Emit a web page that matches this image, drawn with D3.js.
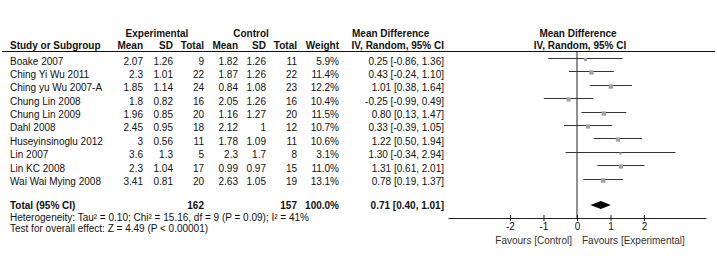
<!DOCTYPE html>
<html>
<head>
<meta charset="utf-8">
<script src="https://cdn.jsdelivr.net/npm/d3@7"></script>
<style>
  body { margin: 0; background: #fff; }
  text { font-family: "Liberation Sans", Arial, sans-serif; font-size: 10px; fill: #111; }
  .b { font-weight: bold; }
</style>
</head>
<body>
<svg id="chart" width="717" height="260"></svg>
<script>
// study data
const studies = ["Boake 2007", "Ching Yi Wu 2011", "Ching yu Wu 2007-A", "Chung Lin 2008", "Chung Lin 2009",
                 "Dahl 2008", "Huseyinsinoglu 2012", "Lin 2007", "Lin KC 2008", "Wai Wai Mying 2008"];
const expMean = ["2.07", "2.3", "1.85", "1.8", "1.96", "2.45", "3", "3.6", "2.3", "3.41"];
const expSD   = ["1.26", "1.01", "1.14", "0.82", "0.85", "0.95", "0.56", "1.3", "1.04", "0.81"];
const expN    = [9, 22, 24, 16, 20, 18, 11, 5, 17, 20];
const ctlMean = ["1.82", "1.87", "0.84", "2.05", "1.16", "2.12", "1.78", "2.3", "0.99", "2.63"];
const ctlSD   = ["1.26", "1.26", "1.08", "1.26", "1.27", "1", "1.09", "1.7", "0.97", "1.05"];
const ctlN    = [11, 22, 23, 16, 20, 12, 11, 8, 15, 19];
const weight  = [5.9, 11.4, 12.2, 10.4, 11.5, 10.7, 10.6, 3.1, 11.0, 13.1];
const md      = [0.25, 0.43, 1.01, -0.25, 0.80, 0.33, 1.22, 1.30, 1.31, 0.78];
const lo      = [-0.86, -0.24, 0.38, -0.99, 0.13, -0.39, 0.50, -0.34, 0.61, 0.19];
const hi      = [1.36, 1.10, 1.64, 0.49, 1.47, 1.05, 1.94, 2.94, 2.01, 1.37];

const total = {expN: 162, ctlN: 157, weight: "100.0%", md: 0.71, lo: 0.40, hi: 1.01};
const tickVals = [-2, -1, 0, 1, 2];
const hetText = "Heterogeneity: Tau\u00b2 = 0.10; Chi\u00b2 = 15.16, df = 9 (P = 0.09); I\u00b2 = 41%";
const testText = "Test for overall effect: Z = 4.49 (P < 0.00001)";

const svg = d3.select("#chart");
// plain hyphen for negatives, like the original
const f2 = v => v.toFixed(2);

// layout
const rowY = d3.scaleLinear().domain([0, studies.length - 1]).range([61, 181.5]);
const xscale = d3.scaleLinear().domain([-3.85, 3.85]).range([448, 706]);
const sizeScale = d3.scaleSqrt().domain([0, 13.1]).range([0, 4.6]);
const axisY = 218, totalY = 205;

function txt(x, y, s, anchor, cls) {
  return svg.append("text")
    .attr("x", x).attr("y", y + 3.5)
    .attr("text-anchor", anchor || "start")
    .attr("class", cls || null)
    .text(s);
}

// headers
txt(157, 33, "Experimental", "middle", "b");
txt(251, 33, "Control", "middle", "b");
txt(352, 33, "Mean Difference", "start", "b");
txt(578, 33, "Mean Difference", "middle", "b");
txt(10, 45, "Study or Subgroup", "start", "b");
const cols = [143, 173, 204, 238, 266, 297, 339];
["Mean", "SD", "Total", "Mean", "SD", "Total", "Weight"].forEach((h, i) => txt(cols[i], 45, h, "end", "b"));
txt(444, 45, "IV, Random, 95% CI", "end", "b");
txt(580, 45, "IV, Random, 95% CI", "middle", "b");

svg.append("line").attr("x1", 2).attr("x2", 715).attr("y1", 51.5).attr("y2", 51.5)
  .attr("stroke", "#111").attr("stroke-width", 1);

// table rows
studies.forEach((s, i) => {
  const y = rowY(i);
  txt(10, y, s);
  [expMean[i], expSD[i], expN[i], ctlMean[i], ctlSD[i], ctlN[i], weight[i].toFixed(1) + "%"]
    .forEach((v, j) => txt(cols[j], y, v, "end"));
  txt(444, y, f2(md[i]) + " [" + f2(lo[i]) + ", " + f2(hi[i]) + "]", "end");
});

// total row
txt(10, totalY, "Total (95% CI)", "start", "b");
txt(cols[2], totalY, total.expN, "end", "b");
txt(cols[5], totalY, total.ctlN, "end", "b");
txt(cols[6], totalY, total.weight, "end", "b");
txt(444, totalY, f2(total.md) + " [" + f2(total.lo) + ", " + f2(total.hi) + "]", "end", "b");
txt(10, 217, hetText);
txt(10, 228, testText);

// forest plot
const plot = svg.append("g");
plot.append("line")
  .attr("x1", xscale(0)).attr("x2", xscale(0))
  .attr("y1", 52).attr("y2", axisY)
  .attr("stroke", "#222");

plot.selectAll(".ci").data(studies).join("line")
  .attr("class", "ci")
  .attr("x1", (d, i) => xscale(lo[i]))
  .attr("x2", (d, i) => xscale(hi[i]))
  .attr("y1", (d, i) => Math.round(rowY(i) - 3) + 0.5)
  .attr("y2", (d, i) => Math.round(rowY(i) - 3) + 0.5)
  .attr("stroke", "#333").attr("stroke-width", 1);

plot.selectAll(".pt").data(studies).join("rect")
  .attr("class", "pt")
  .attr("x", (d, i) => xscale(md[i]) - sizeScale(weight[i]) / 2)
  .attr("y", (d, i) => Math.round(rowY(i) - 3) + 0.5 - sizeScale(weight[i]) / 2 + 1)
  .attr("width", (d, i) => sizeScale(weight[i]))
  .attr("height", (d, i) => sizeScale(weight[i]))
  .attr("fill", "#a0a0a0");

// summary diamond
const dy = 4;
plot.append("path")
  .attr("d", "M" + xscale(total.lo) + "," + totalY +
             "L" + xscale(total.md) + "," + (totalY - dy) +
             "L" + xscale(total.hi) + "," + totalY +
             "L" + xscale(total.md) + "," + (totalY + dy) + "Z")
  .attr("fill", "#000");

// axis
const axis = d3.axisBottom(xscale).tickValues(tickVals).tickSizeInner(3).tickSizeOuter(0).tickPadding(2)
  .tickFormat(d => String(d));
const ag = svg.append("g").attr("transform", "translate(0," + axisY + ")").call(axis);
ag.select(".domain").attr("stroke", "#222");
ag.selectAll(".tick line").attr("y1", -3).attr("y2", 3).attr("stroke", "#222");
ag.selectAll(".tick text").attr("font-family", "Liberation Sans, Arial, sans-serif")
  .attr("font-size", 10).attr("fill", "#222");
ag.attr("font-family", null).attr("font-size", null);

txt(572, 240, "Favours [Control]", "end").style("fill", "#333");
txt(582, 240, "Favours [Experimental]", "start").style("fill", "#333");
</script>
</body>
</html>
